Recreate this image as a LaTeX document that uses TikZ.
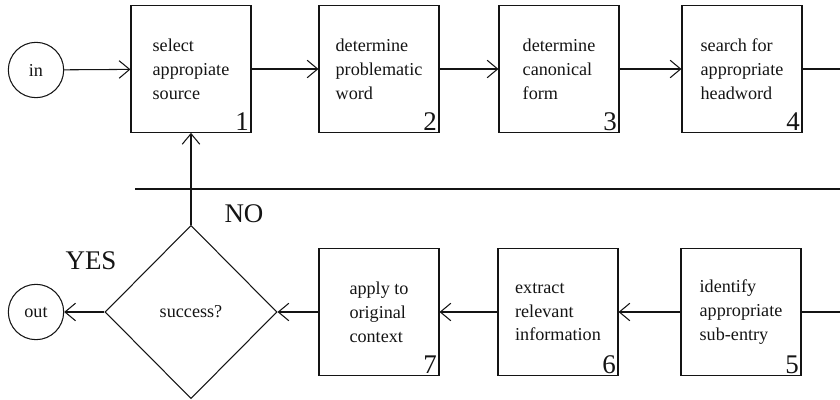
\documentclass[tikz,border=0pt]{standalone}
\usepackage{fontspec}
\setmainfont{Liberation Serif}
\usetikzlibrary{shapes.geometric,arrows.meta}
\definecolor{inkcol}{gray}{0.08}
\tikzset{
  txt/.style={font=\fontsize{15.5}{20.4}\selectfont,text=inkcol},
  stepbox/.style={draw=inkcol,rectangle,line width=0.9pt,minimum width=3.6cm,minimum height=3.8cm,align=left,txt},
  numlab/.style={font=\fontsize{23}{24}\selectfont,text=inkcol,inner sep=2pt,anchor=south east},
  term/.style={draw=inkcol,circle,line width=0.9pt,minimum size=1.66cm,inner sep=0pt,txt},
  decide/.style={draw=inkcol,diamond,line width=0.9pt,minimum width=5.16cm,minimum height=5.2cm,inner sep=0pt,txt},
  ans/.style={font=\fontsize{23}{24}\selectfont,text=inkcol},
  flow/.style={draw=inkcol,line width=0.9pt,-{Straight Barb[length=9pt,width=15pt]}},
  plain/.style={draw=inkcol,line width=0.9pt},
}
\begin{document}
\begin{tikzpicture}[x=0.03cm,y=-0.03cm]
  \useasboundingbox (0,0) rectangle (840,400);
  % top row
  \node[term] (in) at (36,70) {in};
  \node[stepbox] (s1) at (191,69) {select\\appropiate\\source};
  \node[stepbox] (s2) at (379,69) {determine\\problematic\\word};
  \node[stepbox] (s3) at (559,69) {determine\\canonical\\form};
  \node[stepbox] (s4) at (742,69) {search for\\appropriate\\headword};
  \node[numlab] (n1) at (s1.south east) {1};
  \node[numlab] (n2) at (s2.south east) {2};
  \node[numlab] (n3) at (s3.south east) {3};
  \node[numlab] (n4) at (s4.south east) {4};
  \coordinate (edgeA) at (840,69);
  \draw[flow] (in) -- (s1);
  \draw[flow] (s1) -- (s2);
  \draw[flow] (s2) -- (s3);
  \draw[flow] (s3) -- (s4);
  \draw[plain] (s4) -- (edgeA);
  % separator
  \coordinate (sepL) at (135,189);
  \coordinate (sepR) at (840,189);
  \draw[plain] (sepL) -- (sepR);
  % bottom row
  \node[stepbox] (s5) at (741,312) {identify\\appropriate\\sub-entry};
  \node[stepbox] (s6) at (558,312) {extract\\relevant\\information};
  \node[stepbox] (s7) at (379,312) {apply to\\original\\context};
  \node[numlab] (n5) at (s5.south east) {5};
  \node[numlab] (n6) at (s6.south east) {6};
  \node[numlab] (n7) at (s7.south east) {7};
  \node[decide] (ok) at (191,312) {success?};
  \node[term] (out) at (36,312) {out};
  \node[ans] (no) at (244,214) {NO};
  \node[ans] (yes) at (91,261) {YES};
  \coordinate (edgeB) at (840,312);
  \draw[plain] (edgeB) -- (s5);
  \draw[flow] (s5) -- (s6);
  \draw[flow] (s6) -- (s7);
  \draw[flow] (s7) -- (ok);
  \draw[flow] (ok) -- (out);
  \draw[flow] (ok.north) -- (s1.south);
\end{tikzpicture}
\end{document}
